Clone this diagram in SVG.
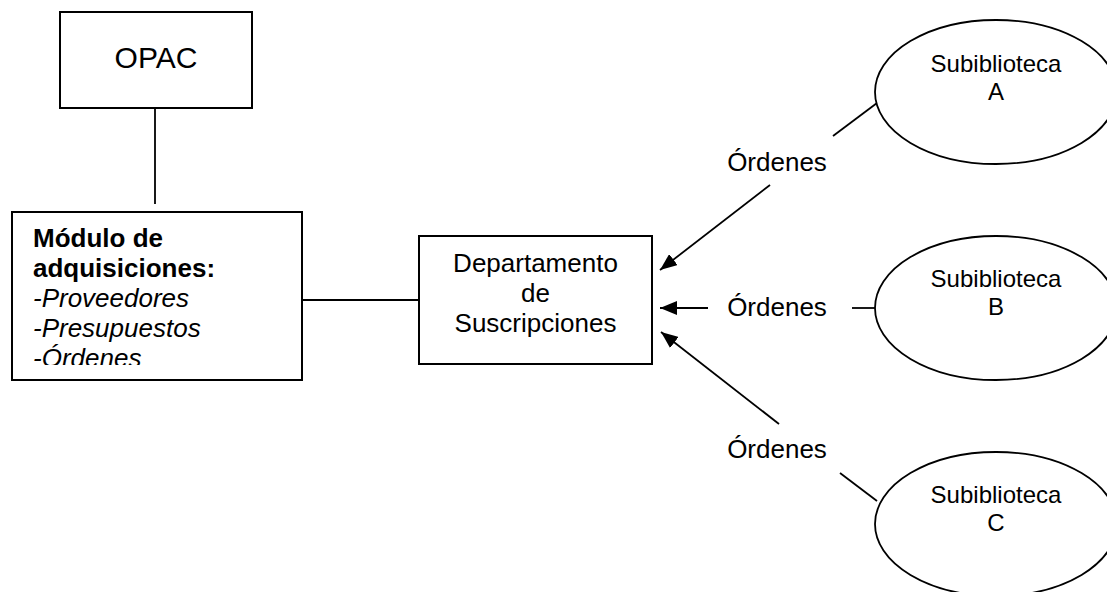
<svg xmlns="http://www.w3.org/2000/svg" width="1107" height="592" viewBox="0 0 1107 592">
  <style>
    .box { fill: #ffffff; stroke: #000000; stroke-width: 2; }
    .oval { fill: #ffffff; stroke: #000000; stroke-width: 1.8; }
    .wire { fill: none; stroke: #000000; stroke-width: 1.8; }
    text { font-family: "Liberation Sans", Arial, sans-serif; fill: #000000; }
    .mid { text-anchor: middle; }
    .t30 { font-size: 30px; }
    .t26 { font-size: 26px; }
    .t24 { font-size: 24px; }
    .b { font-weight: bold; }
    .i { font-style: italic; }
  </style>
  <defs>
    <marker id="head" markerUnits="userSpaceOnUse" markerWidth="18" markerHeight="14" refX="17" refY="7" orient="auto">
      <path d="M0,0 L17,7 L0,14 Z" fill="#000000"/>
    </marker>
    <clipPath id="moduleClip">
      <rect x="13" y="213" width="288" height="152"/>
    </clipPath>
  </defs>

  <rect width="1107" height="592" fill="#ffffff"/>

  <!-- connectors -->
  <g id="connectors">
    <line class="wire" x1="155" y1="108" x2="155" y2="204"/>
    <line class="wire" x1="302" y1="300" x2="419" y2="300"/>
    <!-- from Subiblioteca A -->
    <line class="wire" x1="877" y1="103" x2="833" y2="136"/>
    <line class="wire" x1="770" y1="185" x2="660" y2="270" marker-end="url(#head)"/>
    <!-- from Subiblioteca B -->
    <line class="wire" x1="852" y1="308" x2="876" y2="308"/>
    <line class="wire" x1="708" y1="308" x2="660" y2="308" marker-end="url(#head)"/>
    <!-- from Subiblioteca C -->
    <line class="wire" x1="877" y1="501" x2="840" y2="473"/>
    <line class="wire" x1="779" y1="424" x2="661" y2="332" marker-end="url(#head)"/>
    <text class="t26 mid" x="777" y="171">Órdenes</text>
    <text class="t26 mid" x="777" y="316">Órdenes</text>
    <text class="t26 mid" x="777" y="458">Órdenes</text>
  </g>

  <g id="opac">
    <rect class="box" x="60" y="12" width="192" height="96"/>
    <text class="t30 mid" x="156" y="68">OPAC</text>
  </g>

  <g id="modulo-adquisiciones">
    <rect class="box" x="12" y="212" width="290" height="168"/>
    <g clip-path="url(#moduleClip)">
      <text class="t26 b" x="33" y="247">Módulo de</text>
      <text class="t26 b" x="33" y="277">adquisiciones:</text>
      <text class="t26 i" x="33" y="307">-Proveedores</text>
      <text class="t26 i" x="33" y="337">-Presupuestos</text>
      <text class="t26 i" x="33" y="367">-Órdenes</text>
    </g>
  </g>

  <g id="departamento">
    <rect class="box" x="419" y="236" width="233" height="128"/>
    <text class="t26 mid" x="535.5" y="272">Departamento</text>
    <text class="t26 mid" x="535.5" y="302">de</text>
    <text class="t26 mid" x="535.5" y="332">Suscripciones</text>
  </g>

  <g id="subbiblioteca-a">
    <ellipse class="oval" cx="996" cy="92" rx="121" ry="72"/>
    <text class="t24 mid" x="996" y="71.5">Subiblioteca</text>
    <text class="t24 mid" x="996" y="99.5">A</text>
  </g>

  <g id="subbiblioteca-b">
    <ellipse class="oval" cx="996" cy="308" rx="121" ry="72"/>
    <text class="t24 mid" x="996" y="287">Subiblioteca</text>
    <text class="t24 mid" x="996" y="315">B</text>
  </g>

  <g id="subbiblioteca-c">
    <ellipse class="oval" cx="996" cy="524" rx="121" ry="72"/>
    <text class="t24 mid" x="996" y="503">Subiblioteca</text>
    <text class="t24 mid" x="996" y="531">C</text>
  </g>
</svg>
